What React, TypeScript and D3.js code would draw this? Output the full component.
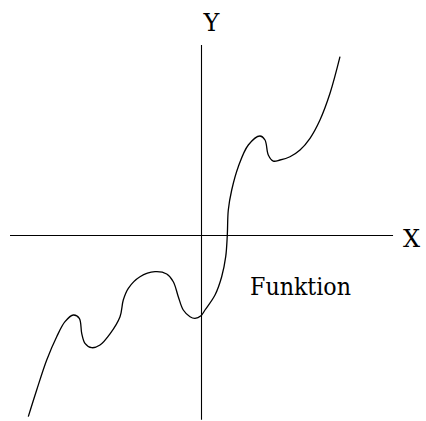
import React from "react";
import * as d3 from "d3";

const curveX = [
  -3.619, -3.444, -3.235, -3.027, -2.854, -2.681, -2.556, -2.506, -2.438, -2.298,
  -2.125, -1.917, -1.708, -1.64, -1.535, -1.292, -0.979, -0.735, -0.598,
  -0.494, -0.39, -0.25, -0.146, -0.021, 0.0625, 0.271, 0.41, 0.494, 0.527,
  0.548, 0.619, 0.756, 0.965, 1.208, 1.3125, 1.381, 1.485, 1.625, 1.833,
  2.042, 2.25, 2.458, 2.667, 2.875,
];
const curveY = [
  -3.785, -3.229, -2.604, -2.119, -1.806, -1.667, -1.735, -2.048, -2.256, -2.348,
  -2.292, -2.06, -1.702, -1.354, -1.11, -0.869, -0.765, -0.813, -0.973,
  -1.285, -1.5625, -1.702, -1.735, -1.681, -1.5625, -1.25, -0.869, -0.452, -0.006,
  0.521, 0.9375, 1.423, 1.875, 2.0625, 1.979, 1.667, 1.54, 1.5625, 1.631,
  1.771, 2.015, 2.396, 2.952, 3.715,
];
const xAxisRange = [-4, 3.98];
const yAxisRange = [-3.85, 3.96];
const labels = { x: "X", y: "Y", fn: "Funktion" };

export default function App() {
  const W = 426;
  const H = 421;
  const x = d3.scaleLinear().domain([-4, 4]).range([10, 394]);
  const y = d3.scaleLinear().domain([-4, 4]).range([427, 43]);
  const pts: [number, number][] = curveX.map((v, i) => [v, curveY[i]]);
  const line = d3
    .line<[number, number]>()
    .x((d) => x(d[0]))
    .y((d) => y(d[1]))
    .curve(d3.curveCatmullRom.alpha(0.5));
  const font = "\"DejaVu Serif\", serif";
  return (
    <svg
      width={W}
      height={H}
      style={{ position: "absolute", left: 0, top: 0, background: "#fff" }}
    >
      <line
        x1={x(xAxisRange[0])}
        x2={x(xAxisRange[1])}
        y1={Math.round(y(0)) + 0.5}
        y2={Math.round(y(0)) + 0.5}
        stroke="#000"
        strokeWidth={1.1}
      />
      <line
        x1={Math.round(x(0)) - 0.5}
        x2={Math.round(x(0)) - 0.5}
        y1={y(yAxisRange[1])}
        y2={y(yAxisRange[0])}
        stroke="#000"
        strokeWidth={1.1}
      />
      <path d={line(pts) || ""} fill="none" stroke="#000" strokeWidth={1.3} />
      <g style={{ fontFamily: font }}>
        <text x={211.5} y={31} textAnchor="middle" fontSize={24}>
          {labels.y}
        </text>
        <text x={403} y={247} fontSize={24}>
          {labels.x}
        </text>
        <text x={250} y={295} fontSize={24} textLength={101} lengthAdjust="spacingAndGlyphs">
          {labels.fn}
        </text>
      </g>
    </svg>
  );
}
